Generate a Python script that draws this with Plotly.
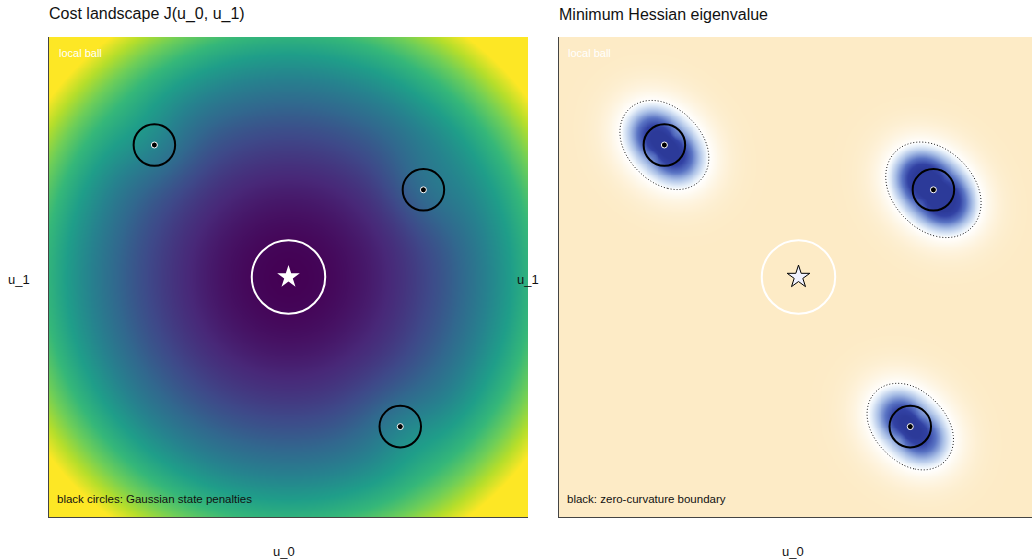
import numpy as np
import plotly.graph_objects as go

# ---- problem definition -------------------------------------------------
u_lo, u_hi = -3.0, 3.0                 # control box
grid_n = 261
quad_gain = 1.0                        # J = a |u|^2 + sum of Gaussian penalties

penalty_u0 = [-1.68, 1.69, 1.40]       # penalty centres (u_0)
penalty_u1 = [1.65, 1.09, -1.87]       # penalty centres (u_1)
penalty_weight = [0.8, 0.95, 0.75]
kernel_sd_long = 0.40
kernel_sd_short = 0.34
kernel_angle_deg = -45.0
penalty_marker_radius = 0.26

optimum_u0 = [0.0]
optimum_u1 = [0.0]
ball_radius = 0.46

cost_zmax = 14.0
curv_zmin = -4.0
curv_zmax = 2.0

# ---- fields -------------------------------------------------------------
u0 = np.linspace(u_lo, u_hi, grid_n)
u1 = np.linspace(u_lo, u_hi, grid_n)
U0, U1 = np.meshgrid(u0, u1)

th = np.deg2rad(kernel_angle_deg)
R = np.array([[np.cos(th), -np.sin(th)], [np.sin(th), np.cos(th)]])
Sigma = R @ np.diag([kernel_sd_long ** 2, kernel_sd_short ** 2]) @ R.T
P = np.linalg.inv(Sigma)

J = quad_gain * (U0 ** 2 + U1 ** 2)
H11 = np.full_like(U0, 2 * quad_gain)
H22 = np.full_like(U0, 2 * quad_gain)
H12 = np.zeros_like(U0)
for c0, c1, w in zip(penalty_u0, penalty_u1, penalty_weight):
    d0, d1 = U0 - c0, U1 - c1
    q0 = P[0, 0] * d0 + P[0, 1] * d1
    q1 = P[1, 0] * d0 + P[1, 1] * d1
    g = w * np.exp(-0.5 * (d0 * q0 + d1 * q1))
    J += g
    H11 += g * (q0 * q0 - P[0, 0])
    H22 += g * (q1 * q1 - P[1, 1])
    H12 += g * (q0 * q1 - P[0, 1])

lam_min = 0.5 * (H11 + H22) - np.sqrt((0.5 * (H11 - H22)) ** 2 + H12 ** 2)

# ---- figure -------------------------------------------------------------
fig = go.Figure()

fig.add_trace(go.Heatmap(x=u0, y=u1, z=J, colorscale="Viridis", zmin=0, zmax=cost_zmax,
                         zsmooth="best", showscale=False, xaxis="x", yaxis="y",
                         hoverinfo="skip"))

# diverging scale: deep blue (negative curvature) -> white at 0 -> cream (convex)
def at(v):
    return (v - curv_zmin) / (curv_zmax - curv_zmin)

curv_scale = [
    [at(-4.0), "#2c3a99"],
    [at(-3.2), "#3242a4"],
    [at(-2.2), "#5a74c4"],
    [at(-1.2), "#a9bfe6"],
    [at(-0.4), "#e6eff9"],
    [at(0.0), "#ffffff"],
    [at(2.0), "#fdebc6"],
]
fig.add_trace(go.Heatmap(x=u0, y=u1, z=lam_min, colorscale=curv_scale,
                         zmin=curv_zmin, zmax=curv_zmax, zsmooth="best",
                         showscale=False, xaxis="x2", yaxis="y2", hoverinfo="skip"))
fig.add_trace(go.Contour(x=u0, y=u1, z=lam_min, xaxis="x2", yaxis="y2",
                         contours=dict(start=0, end=0, size=1, coloring="none"),
                         line=dict(color="#111111", width=1, dash="1px,2px"),
                         showscale=False, hoverinfo="skip"))

for xa, ya in (("x", "y"), ("x2", "y2")):
    for c0, c1 in zip(penalty_u0, penalty_u1):
        fig.add_shape(type="circle", xref=xa, yref=ya,
                      x0=c0 - penalty_marker_radius, x1=c0 + penalty_marker_radius,
                      y0=c1 - penalty_marker_radius, y1=c1 + penalty_marker_radius,
                      line=dict(color="black", width=2))
    fig.add_trace(go.Scatter(x=penalty_u0, y=penalty_u1, mode="markers", xaxis=xa, yaxis=ya,
                             marker=dict(size=6, color="black", line=dict(color="white", width=1)),
                             showlegend=False, hoverinfo="skip"))
    fig.add_shape(type="circle", xref=xa, yref=ya,
                  x0=optimum_u0[0] - ball_radius, x1=optimum_u0[0] + ball_radius,
                  y0=optimum_u1[0] - ball_radius, y1=optimum_u1[0] + ball_radius,
                  line=dict(color="white", width=2))

fig.add_trace(go.Scatter(x=optimum_u0, y=optimum_u1, mode="markers", xaxis="x", yaxis="y",
                         marker=dict(symbol="star", size=17, color="white",
                                     line=dict(color="white", width=0)),
                         showlegend=False, hoverinfo="skip"))
fig.add_trace(go.Scatter(x=optimum_u0, y=optimum_u1, mode="markers", xaxis="x2", yaxis="y2",
                         marker=dict(symbol="star", size=17, color="#f0f2ff",
                                     line=dict(color="black", width=1)),
                         showlegend=False, hoverinfo="skip"))

axis_common = dict(showgrid=False, zeroline=False, showticklabels=False, ticks="",
                   showline=True, linecolor="#444444", linewidth=1, mirror=False)
right_span = 473 / 479 * (u_hi - u_lo)
fig.update_layout(
    width=1032, height=560,
    margin=dict(l=49, r=0, t=37, b=43),
    paper_bgcolor="white", plot_bgcolor="white",
    showlegend=False,
    font=dict(family="Liberation Sans, Arial, sans-serif", color="#222222"),
    xaxis=dict(domain=[0, 479 / 983], range=[u_lo, u_hi], **axis_common),
    yaxis=dict(domain=[0, 1], range=[u_lo, u_hi], **axis_common),
    xaxis2=dict(domain=[510 / 983, 1], range=[u_lo, u_lo + right_span], anchor="y2",
                **axis_common),
    yaxis2=dict(domain=[0, 1], range=[u_lo, u_hi], anchor="x2", **axis_common),
)

ann = []
def text(x, y, s, size, color="#222222", xanchor="left"):
    ann.append(dict(x=x, y=y, text=s, xref="paper", yref="paper", showarrow=False,
                    xanchor=xanchor, yanchor="middle", font=dict(size=size, color=color)))

def px_x(p):
    return (p - 49) / 983

def px_y(p):
    return (517 - p) / 480

text(px_x(47), px_y(14), "Cost landscape J(u_0, u_1)", 16, "#111111")
text(px_x(557), px_y(14), "Minimum Hessian eigenvalue", 16, "#111111")
text(px_x(57), px_y(53), "local ball", 11, "white")
text(px_x(566), px_y(53), "local ball", 11, "white")
text(px_x(55), px_y(499), "black circles: Gaussian state penalties", 11.5, "#111111")
text(px_x(565), px_y(499), "black: zero-curvature boundary", 11.5, "#111111")
text(px_x(284), px_y(551), "u_0", 13, "#111111", xanchor="center")
text(px_x(793), px_y(551), "u_0", 13, "#111111", xanchor="center")
text(px_x(19), px_y(279), "u_1", 13, "#111111", xanchor="center")
text(px_x(528), px_y(279), "u_1", 13, "#111111", xanchor="center")
fig.update_layout(annotations=ann)

fig.write_html("out.html")
